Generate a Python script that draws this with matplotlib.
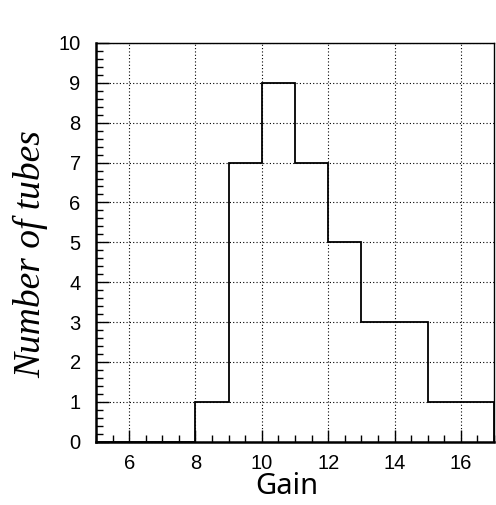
import matplotlib
matplotlib.use("Agg")
from matplotlib import pyplot as plt
from matplotlib.ticker import MultipleLocator
import numpy as np

plt.rcParams["font.family"] = ["Liberation Sans", "DejaVu Sans"]

# bin edges and counts
edges = [5, 6, 7, 8, 9, 10, 11, 12, 13, 14, 15, 16, 17]
counts = [0, 0, 0, 1, 7, 9, 7, 5, 3, 3, 1, 1]

fig = plt.figure(figsize=(4.96, 5.05), dpi=100)
ax = fig.add_axes([0.1935, 0.1253, 0.8025, 0.7897])

ax.stairs(counts, edges, color="black", linewidth=1.3)

ax.set_xlim(5, 17)
ax.set_ylim(0, 10)
ax.xaxis.set_major_locator(MultipleLocator(2))
ax.xaxis.set_minor_locator(MultipleLocator(0.5))
ax.yaxis.set_major_locator(MultipleLocator(1))
ax.yaxis.set_minor_locator(MultipleLocator(0.2))

ax.grid(True, which="major", color="black", linestyle=(0, (1, 2)), linewidth=0.8)
ax.tick_params(which="both", direction="in", top=False, right=False, width=1,
               labelsize=14.5)
ax.tick_params(which="major", length=9)
ax.tick_params(axis="x", which="major", pad=9)
ax.tick_params(axis="y", which="major", pad=11)
ax.tick_params(which="minor", length=5)
for sp in ax.spines.values():
    sp.set_linewidth(1.0)
ax.spines["left"].set_linewidth(1.8)
ax.spines["bottom"].set_linewidth(1.8)

ax.set_xlabel("Gain", fontsize=21, family="Noto Sans", fontweight="light")
ax.xaxis.set_label_coords(0.48, -0.075, transform=ax.transAxes)
ax.xaxis.label.set_va("top")
ax.set_ylabel("Number of tubes", fontsize=27, family=["Liberation Serif"],
              style="italic")
ax.yaxis.set_label_coords(-0.12, 0.47, transform=ax.transAxes)

fig.savefig("out.png", dpi=100)
